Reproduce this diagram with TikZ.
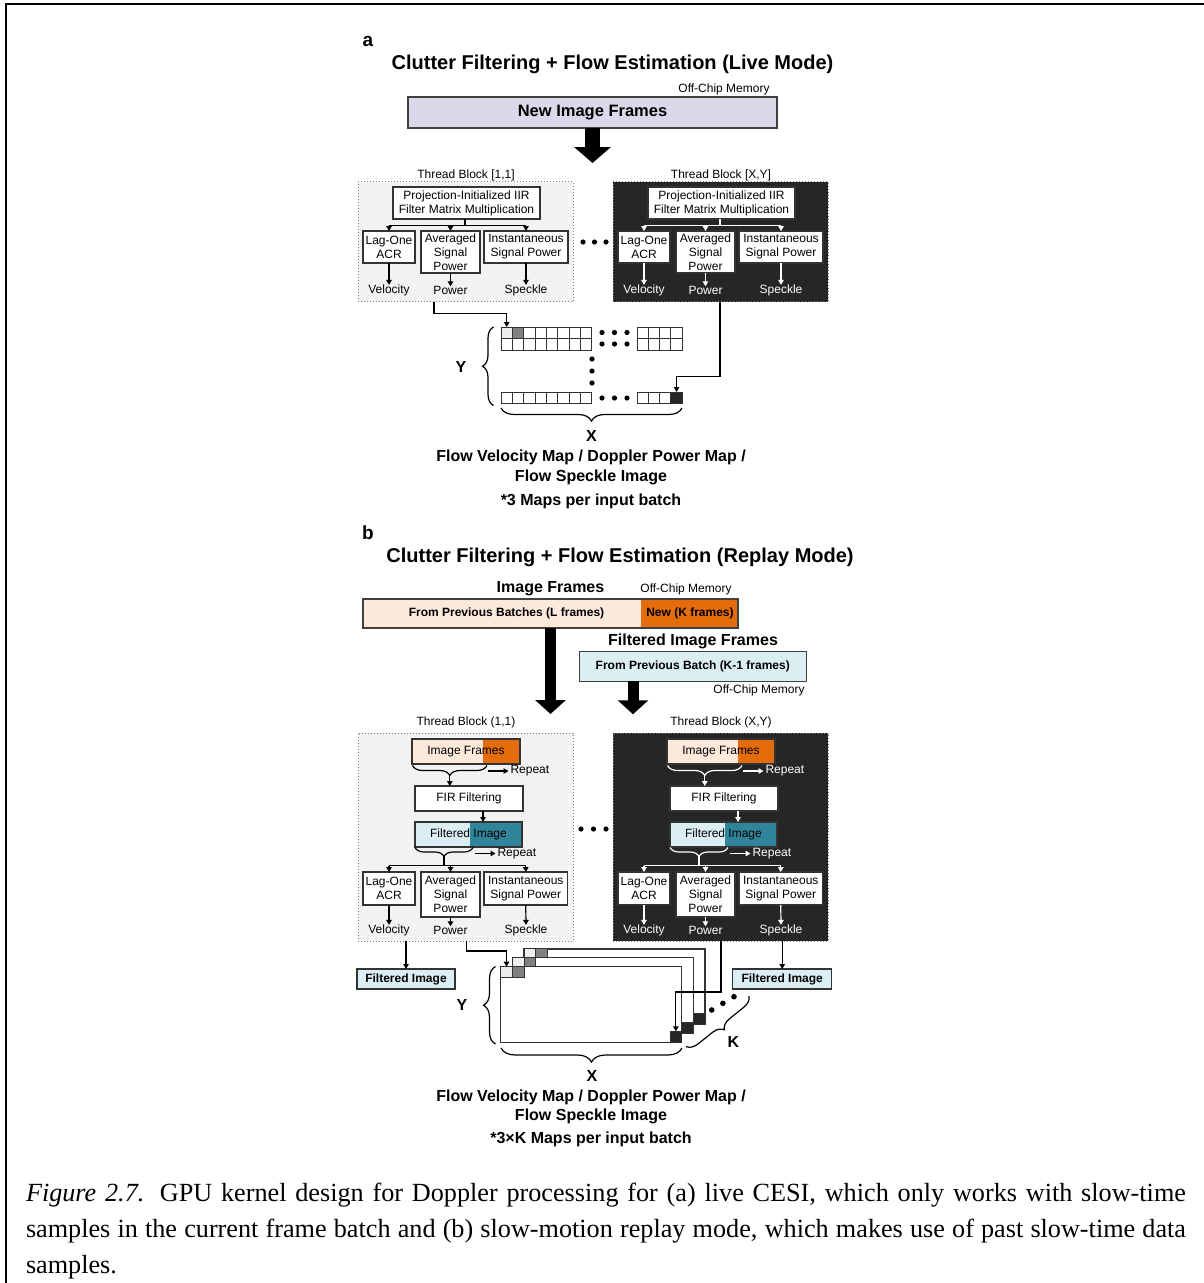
\documentclass[tikz,border=0pt]{standalone}
\usepackage{fontspec}
\setmainfont{Liberation Sans}
\newfontfamily\capserif{Liberation Serif}
\usetikzlibrary{arrows.meta,decorations.pathreplacing}

\definecolor{lav}{RGB}{221,216,233}
\definecolor{blkgray}{RGB}{242,242,242}
\definecolor{blkdark}{RGB}{38,38,38}
\definecolor{peach}{RGB}{252,233,219}
\definecolor{orng}{RGB}{228,108,10}
\definecolor{ltblue}{RGB}{219,238,244}
\definecolor{tealb}{RGB}{49,133,155}
\definecolor{cellA}{RGB}{238,238,238}
\definecolor{cellB}{RGB}{128,128,128}
\definecolor{cellC}{RGB}{38,38,38}

\newcommand\fntS{\fontsize{12}{14}\selectfont}
\newcommand\fntB{\bfseries\fontsize{12}{14}\selectfont}
\newcommand\fntM{\bfseries\fontsize{16}{19.5}\selectfont}
\newcommand\fntL{\bfseries\fontsize{20}{24}\selectfont}

\tikzset{
  every node/.style={inner sep=0pt, outer sep=0pt},
  lbl/.style={font=\fntS, align=center},
  sub/.style={font=\fntM, align=center},
  hdr/.style={font=\fntL},
  wbox/.style={draw=black!80, line width=1.2pt, fill=white, align=center, font=\fntS},
  blk/.style={draw=black!50, dotted, line width=1pt, minimum width=215pt},
  conn/.style={line width=1.2pt},
  arr/.style={line width=1.2pt, -{Triangle[length=5pt,width=5.5pt]}},
  brc/.style={decorate, decoration={brace, amplitude=10pt}, line width=1.2pt},
  bigA/.style={line width=15pt, -{Triangle[length=16pt,width=36pt]}},
  bigB/.style={line width=11pt, -{Triangle[length=14pt,width=30pt]}},
  cellN/.style={draw=black!80, line width=1pt, minimum width=11.35pt, minimum height=11.5pt},
  gridc/.style={draw=black!80, line width=1pt},
  stk/.style={draw=black!80, line width=1.2pt, fill=white, minimum width=181pt, minimum height=75.6pt},
  fltbox/.style={draw=black!80, line width=1.2pt, fill=ltblue, font=\fntB, minimum height=20pt},
  capf/.style={font=\capserif\fontsize{26.2}{36}\selectfont, anchor=base west}
}

% thread block of the live-mode kernel
\newcommand\LiveBlock[5]{%
 \begin{scope}[xshift=#2]
  \node[blk, fill=#3, minimum height=120pt] (#1blk) at (465.5,241.5) {};
  \node[lbl] (#1lab) at (466,175) {#5};
  \node[wbox, minimum width=147pt, minimum height=32pt] (#1prj) at (466.5,203) {Projection-Initialized IIR\\Filter Matrix Multiplication};
  \node[wbox, minimum width=52pt, minimum height=32pt] (#1acr) at (389,247) {Lag-One\\ACR};
  \node[wbox, minimum width=59pt, minimum height=42pt] (#1avg) at (450.5,252) {Averaged\\Signal\\Power};
  \node[wbox, minimum width=84pt, minimum height=32pt] (#1ins) at (526,247) {Instantaneous\\Signal Power};
  \node[lbl, text=#4] (#1vel) at (389,290.5) {Velocity};
  \node[lbl, text=#4] (#1pow) at (450.5,290.5) {Power};
  \node[lbl, text=#4] (#1spk) at (526,290.5) {Speckle};
  \path (#1prj.south) ++(0,6.5) coordinate (#1j);
  \draw[conn, #4] ([xshift=-1.5pt]#1prj.south) -- ([xshift=-1.5pt]#1j);
  \draw[conn, #4] (#1j -| #1acr.north) -- (#1j -| #1ins.north);
  \foreach \bx in {acr,avg,ins} \draw[arr, #4] (#1j -| #1\bx.north) -- (#1\bx.north);
  \draw[arr, #4] (#1acr.south) -- (#1vel.north);
  \draw[arr, #4] (#1avg.south) -- (#1pow.north);
  \draw[arr, #4] (#1ins.south) -- (#1spk.north);
 \end{scope}}

% thread block of the replay-mode kernel
\newcommand\ReplayBlock[5]{%
 \begin{scope}[xshift=#2]
  \node[blk, fill=#3, minimum height=208pt] (#1blk) at (465.5,837) {};
  \node[lbl] (#1lab) at (466,722.5) {#5};
  \node[wbox, fill=peach, minimum width=108pt, minimum height=25pt,
        path picture={\fill[orng] ([xshift=71pt]path picture bounding box.south west) rectangle (path picture bounding box.north east);}]
        (#1img) at (466,751.5) {Image Frames};
  \draw[brc, #4] (487,765.5) -- (412.5,765.5);
  \coordinate (#1t1) at (449.75,775);
  \node[wbox, minimum width=108pt, minimum height=25pt] (#1fir) at (469,798.5) {FIR Filtering};
  \draw[arr, #4] (#1t1) -- (#1t1 |- #1fir.north);
  \node[lbl, text=#4, anchor=west] (#1rpa) at (510.5,771) {Repeat};
  \draw[arr, #4] ([xshift=-22.5pt]#1rpa.west) -- ([xshift=-2pt]#1rpa.west);
  \node[wbox, fill=ltblue, minimum width=107pt, minimum height=25pt,
        path picture={\fill[tealb] ([xshift=55pt]path picture bounding box.south west) rectangle (path picture bounding box.north east);}]
        (#1flt) at (468.5,834.5) {Filtered Image};
  \path ([xshift=14pt]#1fir.south) coordinate (#1fa);
  \draw[arr, #4] (#1fa) -- (#1fa |- #1flt.north);
  \draw[brc, #4, decoration={amplitude=9pt}] (473,847.5) -- (415,847.5);
  \coordinate (#1t2) at (444,856);
  \coordinate (#1j) at (444,865.5);
  \draw[conn, #4] (#1t2) -- (#1j);
  \node[lbl, text=#4, anchor=west] (#1rpb) at (497.5,853.5) {Repeat};
  \draw[arr, #4] ([xshift=-22.5pt]#1rpb.west) -- ([xshift=-2pt]#1rpb.west);
  \node[wbox, minimum width=52pt, minimum height=33pt] (#1acr) at (389,888.5) {Lag-One\\ACR};
  \node[wbox, minimum width=59pt, minimum height=45pt] (#1avg) at (450.5,894.5) {Averaged\\Signal\\Power};
  \node[wbox, minimum width=83.5pt, minimum height=33pt] (#1ins) at (525.75,888.5) {Instantaneous\\Signal Power};
  \node[lbl, text=#4] (#1vel) at (389,930.5) {Velocity};
  \node[lbl, text=#4] (#1pow) at (450.5,930.5) {Power};
  \node[lbl, text=#4] (#1spk) at (526,930.5) {Speckle};
  \draw[conn, #4] (#1j -| #1acr.north) -- (#1j -| #1ins.north);
  \foreach \bx in {acr,avg,ins} \draw[arr, #4] (#1j -| #1\bx.north) -- (#1\bx.north);
  \draw[arr, #4] (#1acr.south) -- (#1vel.north);
  \draw[arr, #4] (#1avg.south) -- (#1pow.north);
  \draw[arr, #4] (#1ins.south) -- (#1spk.north);
 \end{scope}}

\begin{document}
\begin{tikzpicture}[x=1pt,y=-1pt]
\useasboundingbox (0,0) rectangle (1204,1283);
\fill[white] (0,0) rectangle (1204,1283);
\draw[line width=2pt] (6,1283) -- (6,4) -- (1204,4);

% ---------------- (a) live mode ----------------
\node[font=\bfseries\fontsize{19}{22}\selectfont] (la) at (368,41.5) {a};
\node[hdr] (ta) at (612.5,64.5) {Clutter Filtering + Flow Estimation (Live Mode)};
\node[lbl] (oca) at (724,89) {Off-Chip Memory};
\node[draw=black!75, line width=1.3pt, fill=lav, minimum width=369pt, minimum height=31pt,
      font=\bfseries\fontsize{16.5}{19}\selectfont] (nif) at (592.5,112.5) {New Image Frames};
\draw[bigA] (nif.south) -- ++(0,35);

\LiveBlock{a1}{0pt}{blkgray}{black}{Thread Block [1,1]}
\LiveBlock{a2}{255pt}{blkdark}{white}{Thread Block [X,Y]}
\foreach \px in {583,594.5,606} \fill (\px,242) circle[radius=2.6pt];

% output map grid
\foreach \r in {327,338.5,392}{
  \foreach \i in {0,...,7} \draw[gridc] ({501+\i*11.35},\r) rectangle ++(11.35,11.5);
  \foreach \i in {0,...,3} \draw[gridc] ({637+\i*11.3},\r) rectangle ++(11.3,11.5);
}
\node[cellN, fill=cellA] (cA) at (506.7,332.75) {};
\node[cellN, fill=cellB] (cB) at (518.0,332.75) {};
\node[cellN, fill=cellC, minimum width=11.3pt] (cZ) at (676.55,397.75) {};
\foreach \px in {602,614.5,627} {
  \fill (\px,332.5) circle[radius=2.6pt];
  \fill (\px,344) circle[radius=2.6pt];
  \fill (\px,398) circle[radius=2.6pt];
}
\foreach \py in {359,371,383} \fill (592,\py) circle[radius=2.6pt];

\draw[arr] ([xshift=-31.5pt]a1blk.south) -- ++(0,12) -| (cA.north);
\draw[arr] ([xshift=-0.5pt]a2blk.south) -- ++(0,75) -| (cZ.north);

\draw[brc, decoration={amplitude=11pt}] (493.5,405.5) -- (493.5,327);
\node[sub] (ya) at (461,366.5) {Y};
\draw[brc, decoration={amplitude=13pt}] (682,408) -- (501,408);
\node[sub] (xa) at (591.5,436) {X};
\node[sub] (ma1) at (591,457) {Flow Velocity Map / Doppler Power Map /};
\node[sub] (ma2) at (591,477) {Flow Speckle Image};
\node[sub] (ma3) at (591,501) {*3 Maps per input batch};

% ---------------- (b) replay mode ----------------
\node[font=\bfseries\fontsize{19}{22}\selectfont] (lb) at (368,532.5) {b};
\node[hdr] (tb) at (620,557.5) {Clutter Filtering + Flow Estimation (Replay Mode)};
\node[sub] (imfr) at (550.5,589) {Image Frames};
\node[lbl] (ocb) at (686,589) {Off-Chip Memory};
\node[draw=black!75, line width=1.3pt, fill=peach, minimum width=375pt, minimum height=29pt,
      path picture={\fill[orng] ([xshift=278pt]path picture bounding box.south west) rectangle (path picture bounding box.north east);}]
      (bar) at (550.5,613.5) {};
\node[font=\fntB] (prevL) at (506.5,613.5) {From Previous Batches (L frames)};
\node[font=\fntB] (newK) at (690,613.5) {New (K frames)};
\node[sub] (ffr) at (693,641) {Filtered Image Frames};
\node[draw=black!75, line width=1.3pt, fill=ltblue, minimum width=227pt, minimum height=29.5pt, font=\fntB]
      (fbox) at (692.75,666.5) {From Previous Batch (K-1 frames)};
\node[lbl] (occ) at (759,690.5) {Off-Chip Memory};
\draw[bigB] (bar.south) -- ++(0,86);
\draw[bigB] ([xshift=-59.75pt]fbox.south) -- ++(0,33);

\ReplayBlock{b1}{0pt}{blkgray}{black}{Thread Block (1,1)}
\ReplayBlock{b2}{255pt}{blkdark}{white}{Thread Block (X,Y)}
\foreach \px in {581,593.5,606} \fill (\px,829) circle[radius=2.6pt];

% stack of K output maps
\foreach \k in {2,1,0}{
  \node[stk] (st\k) at ({591.2+11.67*\k},{1004.5-8.9*\k}) {};
  \node[cellN, fill=cellA, minimum width=11.67pt, minimum height=11pt] (sl\k) at ({506.55+11.67*\k},{972.2-8.9*\k}) {};
  \node[cellN, fill=cellB, minimum width=11.67pt, minimum height=11pt] (sg\k) at ({518.2+11.67*\k},{972.2-8.9*\k}) {};
  \node[cellN, fill=cellC, minimum width=11.67pt, minimum height=11pt] (sz\k) at ({675.85+11.67*\k},{1036.8-8.9*\k}) {};
}
\foreach \px/\py in {711.7/1010,722.9/1003.3,734/996.7} \fill (\px,\py) circle[radius=2.8pt];

\node[fltbox, minimum width=98pt] (fbl) at (406,979) {Filtered Image};
\node[fltbox, minimum width=99pt] (fbr) at (782.2,979) {Filtered Image};
\draw[arr] (fbl.north |- b1blk.south) -- (fbl.north);
\draw[arr] (fbr.north |- b2blk.south) -- (fbr.north);
\draw[arr] ([xshift=1pt]b1blk.south) -- ++(0,10) -| (sl0.north);
\draw[arr] ([xshift=0.5pt]b2blk.south) -- ++(0,51) -| (sz0.north);

\draw[brc, decoration={amplitude=12pt}] (495.5,1044) -- (495.5,966.5);
\node[sub] (yb) at (462,1005) {Y};
\draw[brc, decoration={amplitude=14pt}] (682,1048) -- (501,1048);
\node[sub] (xb) at (592,1075.5) {X};
\draw[brc, decoration={amplitude=11pt}] (749,996) -- (686,1046.5);
\node[sub] (kb) at (733.5,1042) {K};
\node[sub] (mb1) at (591,1097) {Flow Velocity Map / Doppler Power Map /};
\node[sub] (mb2) at (591,1116.5) {Flow Speckle Image};
\node[sub] (mb3) at (591,1139) {*3×K Maps per input batch};

% ---------------- caption ----------------
\node[capf] (cap1) at (26,1201) {\makebox[1160pt][s]{\textit{Figure 2.7.} GPU kernel design for Doppler processing for (a) live CESI, which only works with slow-time}};
\node[capf] (cap2) at (26,1237) {\makebox[1160pt][s]{samples in the current frame batch and (b) slow-motion replay mode, which makes use of past slow-time data}};
\node[capf] (cap3) at (26,1273) {samples.};
\end{tikzpicture}
\end{document}
